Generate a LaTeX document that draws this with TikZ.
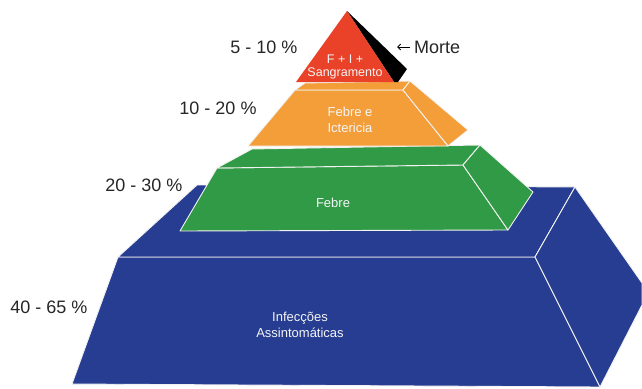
\documentclass[tikz,border=0pt]{standalone}
\usepackage{fontspec}
\setmainfont{Liberation Sans}
\usetikzlibrary{arrows.meta}

\definecolor{TopRed}{RGB}{234,66,40}
\definecolor{MidOrange}{RGB}{244,158,58}
\definecolor{LowGreen}{RGB}{48,154,70}
\definecolor{BaseBlue}{RGB}{38,61,145}

\begin{document}
\begin{tikzpicture}[x=1pt,y=-1pt]
		\tikzset{FaceStyle/.style = {draw=white!90!gray,line width=0.9pt,line join=round}}
		\tikzset{LevelStyle/.style = {font=\fontsize{18}{20}\selectfont,text=black!85,inner sep=0pt}}
		\tikzset{TextStyle/.style = {font=\fontsize{13}{16}\selectfont,text=white!92!gray,align=center,inner sep=0pt}}
		\useasboundingbox (0,0) rectangle (642,388);
		% base
		\filldraw[FaceStyle,fill=BaseBlue] (118,257) -- (535,257) -- (600,387) -- (72,384) -- cycle;
		\filldraw[FaceStyle,fill=BaseBlue] (197,185) -- (575,187) -- (535,257) -- (118,257) -- cycle;
		\filldraw[FaceStyle,fill=BaseBlue] (575,187) -- (642,283) -- (642,305) -- (600,387) -- (535,257) -- cycle;
		% fever
		\filldraw[FaceStyle,fill=LowGreen] (217,168) -- (463,165) -- (508,230) -- (180,231) -- cycle;
		\filldraw[FaceStyle,fill=LowGreen] (252,149) -- (480,145) -- (463,165) -- (217,168) -- cycle;
		\filldraw[FaceStyle,fill=LowGreen] (480,145) -- (533,192) -- (508,230) -- (463,165) -- cycle;
		% fever and jaundice
		\filldraw[FaceStyle,fill=MidOrange] (295,90) -- (403,90) -- (448,146) -- (248,146) -- cycle;
		\filldraw[FaceStyle,fill=MidOrange] (305,83) -- (410,81) -- (403,90) -- (295,90) -- cycle;
		\filldraw[FaceStyle,fill=MidOrange] (410,81) -- (468,130) -- (448,146) -- (403,90) -- cycle;
		% top
		\fill[black] (347,11) -- (407,69) -- (398,82) -- (394,82) -- cycle;
		\fill[TopRed] (347,11) -- (394,82) -- (296,82) -- cycle;
		% texts
		\node[TextStyle,font=\fontsize{12.5}{13.5}\selectfont] (FIS) at (345,67) {F + I +\\Sangramento};
		\node[TextStyle] (FI) at (350,120) {Febre e\\Ictericia};
		\node[TextStyle] (F) at (333,203) {Febre};
		\node[TextStyle] (IA) at (300,325) {Infecções\\Assintomáticas};
		% levels
		\node[LevelStyle] (P1) at (264,47) {5 - 10 \%};
		\node[LevelStyle] (P2) at (218,108) {10 - 20 \%};
		\node[LevelStyle] (P3) at (144,185) {20 - 30 \%};
		\node[LevelStyle] (P4) at (49,307) {40 - 65 \%};
		\node[LevelStyle,anchor=west] (Morte) at (414,47) {Morte};
		\coordinate (MorteTip) at (397,47);
		\draw[line width=1pt,-{Straight Barb[length=3pt,width=6pt]}] ([xshift=-4pt]Morte.west) -- (MorteTip);
	\end{tikzpicture}
\end{document}
